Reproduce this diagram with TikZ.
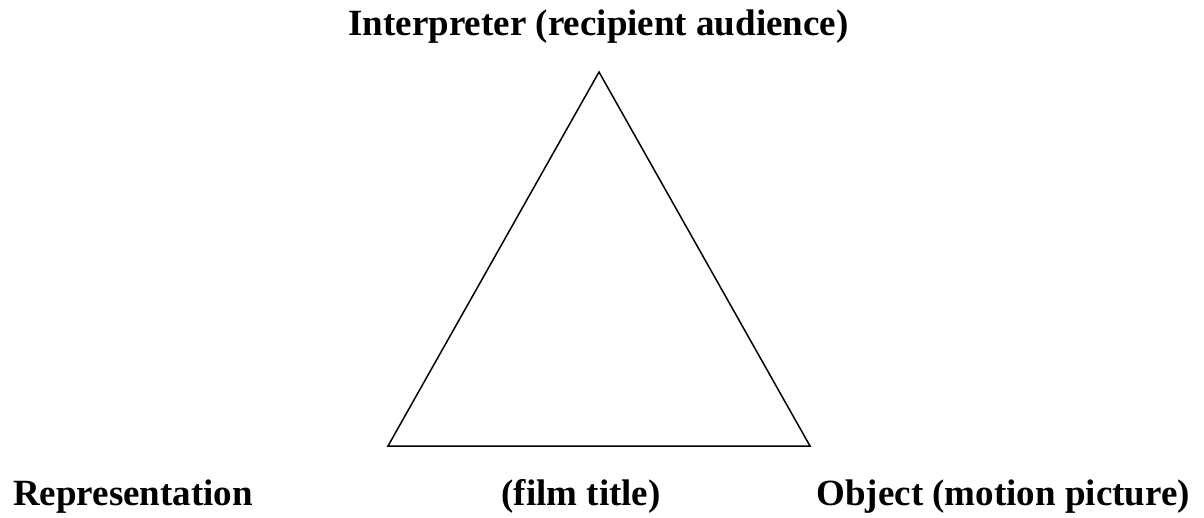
\documentclass[tikz,border=0pt]{standalone}
\usepackage{fontspec}
\setmainfont{Liberation Serif}
\begin{document}
\begin{tikzpicture}[x=1pt,y=-1pt,
  lbl/.style={font=\fontsize{37}{41}\selectfont\bfseries, inner sep=0pt},
  tri/.style={draw=black, line width=1.5pt, line join=miter}]
\useasboundingbox (0,0) rectangle (1204,518);
\coordinate (top) at (599,72);
\coordinate (bl) at (388,446);
\coordinate (br) at (810,446);
\draw[tri] (top) -- (bl) -- (br) -- cycle;
\node[lbl, anchor=base] (interp) at (598.5,36) {Interpreter (recipient audience)};
\node[lbl, anchor=base west] (rep) at (13,505) {Representation};
\node[lbl, anchor=base] (film) at (581,505) {(film title)};
\node[lbl, anchor=base east] (obj) at (1190,505) {Object (motion picture)};
\end{tikzpicture}
\end{document}
